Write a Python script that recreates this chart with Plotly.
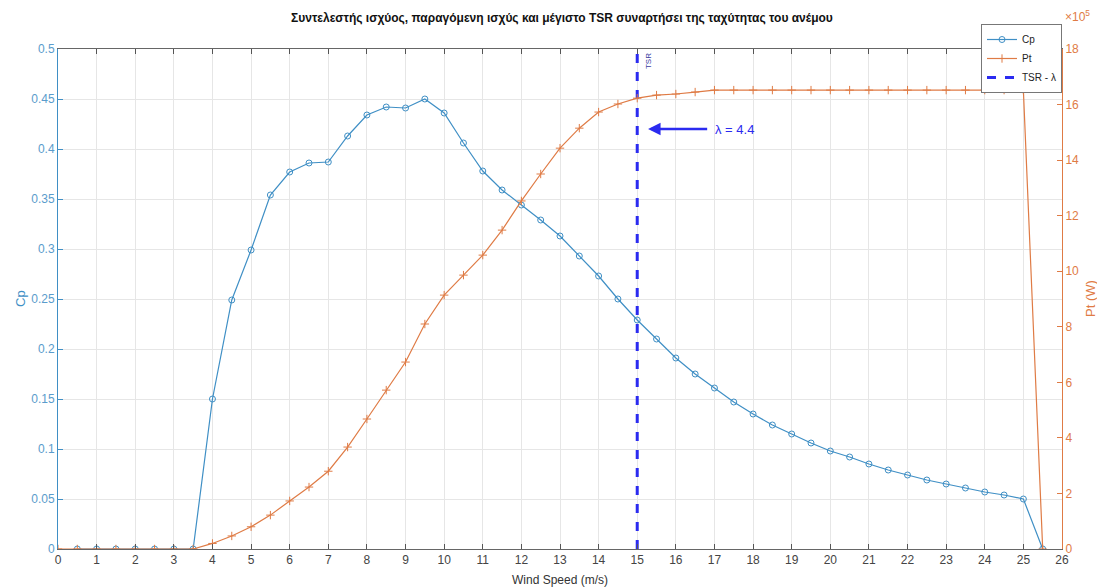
import plotly.graph_objects as go

wind_cp = [0.5, 1, 1.5, 2, 2.5, 3, 3.5, 4, 4.5, 5, 5.5, 6, 6.5, 7, 7.5, 8, 8.5, 9, 9.5, 10,
           10.5, 11, 11.5, 12, 12.5, 13, 13.5, 14, 14.5, 15, 15.5, 16, 16.5, 17, 17.5, 18,
           18.5, 19, 19.5, 20, 20.5, 21, 21.5, 22, 22.5, 23, 23.5, 24, 24.5, 25, 25.5]
cp = [0, 0, 0, 0, 0, 0, 0, 0.150, 0.249, 0.299, 0.354, 0.377, 0.386, 0.387, 0.413, 0.434,
      0.442, 0.441, 0.450, 0.436, 0.406, 0.378, 0.359, 0.344, 0.329, 0.313, 0.293, 0.273,
      0.250, 0.229, 0.210, 0.191, 0.175, 0.161, 0.147, 0.135, 0.124, 0.115, 0.106, 0.098,
      0.092, 0.085, 0.079, 0.074, 0.069, 0.065, 0.061, 0.057, 0.054, 0.050, 0]

wind_pt = [0] + wind_cp
pt_e5 = [0, 0, 0, 0, 0, 0, 0, 0, 0.2, 0.47, 0.8, 1.22, 1.73, 2.23, 2.8, 3.67, 4.68, 5.72,
         6.73, 8.1, 9.14, 9.86, 10.58, 11.48, 12.53, 13.5, 14.43, 15.15, 15.73, 16.02, 16.23,
         16.34, 16.38, 16.45, 16.52, 16.52, 16.52, 16.52, 16.52, 16.52, 16.52, 16.52, 16.52,
         16.52, 16.52, 16.52, 16.52, 16.52, 16.52, 16.52, 16.52, 0]
pt = [v * 1e5 for v in pt_e5]

tsr_x = [15, 15]
tsr_y = [0, 0.5]
lambda_value = 4.4

x_ticks = list(range(0, 27))
cp_ticks = [round(0.05 * i, 2) for i in range(11)]
pt_ticks = [i * 2e5 for i in range(10)]
pt_tick_labels = [str(i * 2) for i in range(10)]

CP_COL = "#3f8fc5"
PT_COL = "#df7b45"
TSR_COL = "#2b2bf0"
FONT = "Liberation Sans, Arial, sans-serif"

fig = go.Figure()
fig.add_trace(go.Scatter(
    x=wind_cp, y=cp, name="Cp", mode="lines+markers",
    line=dict(color=CP_COL, width=1.2),
    marker=dict(symbol="circle-open", size=6, color=CP_COL, line=dict(width=1, color=CP_COL)),
    yaxis="y"))
fig.add_trace(go.Scatter(
    x=wind_pt, y=pt, name="Pt", mode="lines+markers",
    line=dict(color=PT_COL, width=1.2),
    marker=dict(symbol="cross-thin-open", size=6, color=PT_COL, line=dict(width=1, color=PT_COL)),
    yaxis="y2"))
fig.add_trace(go.Scatter(
    x=tsr_x, y=tsr_y, name="TSR - λ", mode="lines",
    line=dict(color=TSR_COL, width=3, dash="dash"),
    yaxis="y"))

fig.add_annotation(x=15.28, y=0.42, ax=16.85, ay=0.42, xref="x", yref="y",
                   axref="x", ayref="y", text="", showarrow=True,
                   arrowhead=2, arrowsize=1, arrowwidth=2.5, arrowcolor=TSR_COL)
fig.add_annotation(x=16.95, y=0.42, xref="x", yref="y", xanchor="left", yanchor="middle",
                   text=f"λ = {lambda_value}", showarrow=False,
                   font=dict(color=TSR_COL, size=13, family=FONT))
fig.add_annotation(x=15.28, y=0.5, xref="x", yref="y", xanchor="center", yanchor="top",
                   yshift=-2, text="TSR", textangle=-90, showarrow=False,
                   font=dict(color="#3a3aa0", size=8, family=FONT))
fig.add_annotation(x=1.0, y=1.0, xref="paper", yref="paper", xanchor="left", yanchor="bottom",
                   xshift=1, yshift=23, text="×10<sup>5</sup>", showarrow=False,
                   font=dict(color=PT_COL, size=12, family=FONT))
# axis titles placed as annotations
fig.add_annotation(x=0, y=0.5, xref="paper", yref="paper", xanchor="center", yanchor="middle",
                   xshift=-38, text="Cp", textangle=-90, showarrow=False,
                   font=dict(color=CP_COL, size=13, family=FONT))
fig.add_annotation(x=1, y=0.5, xref="paper", yref="paper", xanchor="center", yanchor="middle",
                   xshift=28, text="Pt (W)", textangle=-90, showarrow=False,
                   font=dict(color=PT_COL, size=13, family=FONT))
fig.add_annotation(x=0.5, y=0, xref="paper", yref="paper", xanchor="center", yanchor="top",
                   yshift=-22, text="Wind Speed (m/s)", showarrow=False,
                   font=dict(color="#333", size=12, family=FONT))

# page body adds an 8px offset; shrink the figure so the plot lands where the reference has it
fig.update_layout(
    width=1097, height=580,
    margin=dict(l=50, r=43, t=41, b=39),
    paper_bgcolor="white", plot_bgcolor="white",
    font=dict(family=FONT, size=12, color="#444"),
    title=dict(text="<b>Συντελεστής ισχύος, παραγόμενη ισχύς και μέγιστο TSR συναρτήσει της ταχύτητας του ανέμου</b>",
               x=0.505, xanchor="center", y=0.99, yanchor="top",
               font=dict(size=12, color="#111", family=FONT)),
    showlegend=True,
    legend=dict(x=1.0, y=1.05, xanchor="right", yanchor="top",
                bgcolor="white", bordercolor="#777", borderwidth=1,
                font=dict(size=10, color="#222", family=FONT),
                tracegroupgap=0, itemwidth=30),
    xaxis=dict(range=[0, 26], tickvals=x_ticks, ticks="inside", ticklen=5,
               tickcolor="#555", showline=True, linecolor="#666", linewidth=1,
               mirror="ticks", showgrid=True, gridcolor="#e6e6e6", zeroline=False,
               tickfont=dict(size=12, color="#444"), automargin=False),
    yaxis=dict(range=[0, 0.5], tickvals=cp_ticks, ticks="inside", ticklen=5,
               tickcolor=CP_COL, showline=True, linecolor=CP_COL, linewidth=1,
               showgrid=True, gridcolor="#e6e6e6", zeroline=False,
               tickfont=dict(size=12, color="#5a9ccc"), automargin=False),
    yaxis2=dict(range=[0, 18e5], tickvals=pt_ticks, ticktext=pt_tick_labels,
                overlaying="y", side="right", ticks="inside", ticklen=5,
                tickcolor=PT_COL, showline=True, linecolor=PT_COL, linewidth=1,
                showgrid=False, zeroline=False,
                tickfont=dict(size=12, color=PT_COL), automargin=False),
)

fig.write_html("out.html")
